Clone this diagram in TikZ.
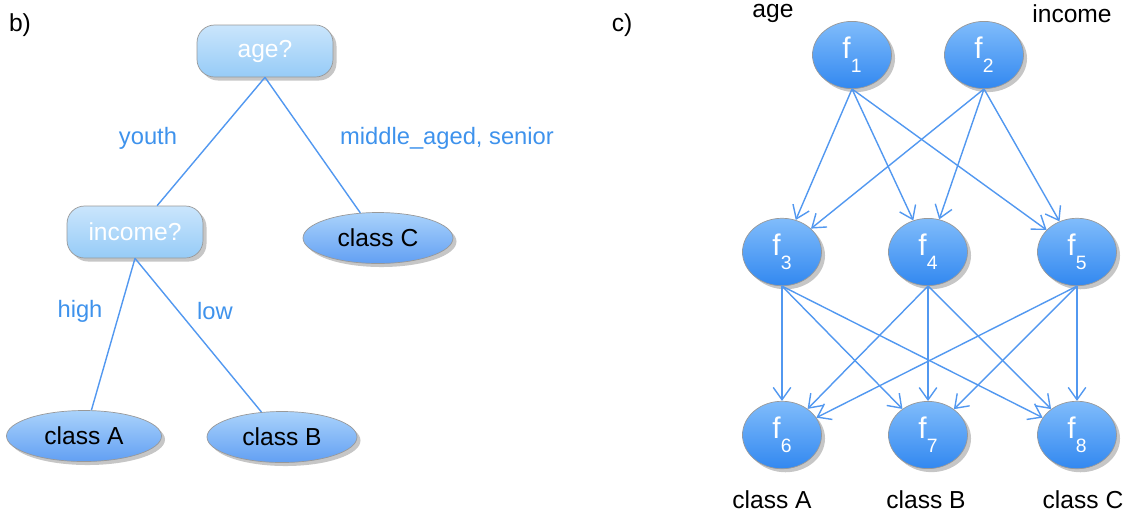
\documentclass[tikz,border=0pt]{standalone}
\usepackage{fontspec}
\setmainfont{Liberation Sans}
\usetikzlibrary{shapes.geometric,shadows,arrows.meta}

\definecolor{edgeblue}{RGB}{82,152,240}
\definecolor{textblue}{RGB}{62,146,236}
\newcommand{\fsub}[1]{f\raisebox{-0.9ex}{\fontsize{11}{11}\selectfont #1}}

\begin{document}
\begin{tikzpicture}[x=0.02cm,y=-0.02cm,font=\fontsize{14}{16}\selectfont,
  shade/.style={drop shadow={shadow xshift=2pt,shadow yshift=-2pt,opacity=0.45}},
  question/.style={shade,draw=gray!80,rounded corners=10pt,top color={rgb,255:red,202;green,229;blue,252},
    bottom color={rgb,255:red,150;green,203;blue,247},text=white,
    minimum width=2.72cm,minimum height=1.04cm},
  leaf/.style={shade,ellipse,draw=gray!80,top color={rgb,255:red,170;green,210;blue,251},
    bottom color={rgb,255:red,98;green,160;blue,243},minimum width=3cm,minimum height=1.02cm},
  fnode/.style={shade,ellipse,draw=gray!80,top color={rgb,255:red,128;green,188;blue,251},
    bottom color={rgb,255:red,50;green,136;blue,240},text=white,font=\fontsize{17}{17}\selectfont,
    minimum width=1.58cm,minimum height=1.2cm},
  branch/.style={draw=edgeblue,thick},
  arc/.style={branch,-{Straight Barb[length=7pt,width=10pt]}},
  lbl/.style={text=textblue,font=\fontsize{13.5}{15}\selectfont}]
\useasboundingbox (0,0) rectangle (1142,515);

% b) decision tree
\node (b) at (20,25) {b)};
\node[question] (age) at (265,51) {age?};
\node[question] (income) at (135,232) {income?};
\node[leaf] (classC) at (378,238) {class C};
\node[leaf,minimum width=3.1cm] (classA) at (84,436) {class A};
\node[leaf] (classB) at (282,437) {class B};

\draw[branch] (age.south) -- (income);
\draw[branch] (age.south) -- (classC);
\draw[branch] (income.south) -- (classA);
\draw[branch] (income.south) -- (classB);

\node[lbl] (youth) at (148,138) {youth};
\node[lbl] (senior) at (447,138) {middle\_aged, senior};
\node[lbl] (high) at (80,311) {high};
\node[lbl] (low) at (215,311) {low};

% c) network of units
\node (c) at (622,25) {c)};
\node[fnode,minimum height=1cm] (f1) at (852,55) {\fsub{1}};
\node[fnode,minimum height=1cm] (f2) at (984,55) {\fsub{2}};
\node[fnode] (f3) at (782,252) {\fsub{3}};
\node[fnode] (f4) at (928,252) {\fsub{4}};
\node[fnode] (f5) at (1077,252) {\fsub{5}};
\node[fnode] (f6) at (782,435) {\fsub{6}};
\node[fnode] (f7) at (928,435) {\fsub{7}};
\node[fnode] (f8) at (1077,435) {\fsub{8}};

\node (in1) at (773,13) {age};
\node (in2) at (1072,14) {income};
\node (out1) at (772,500) {class A};
\node (out2) at (926,500) {class B};
\node (out3) at (1083,500) {class C};

\foreach \s in {1,2}
  \foreach \t in {3,4,5}
    \draw[arc] (f\s.south) -- (f\t);
\foreach \s in {3,4,5}
  \foreach \t in {6,7,8}
    \draw[arc] (f\s.south) -- (f\t);

\end{tikzpicture}
\end{document}
